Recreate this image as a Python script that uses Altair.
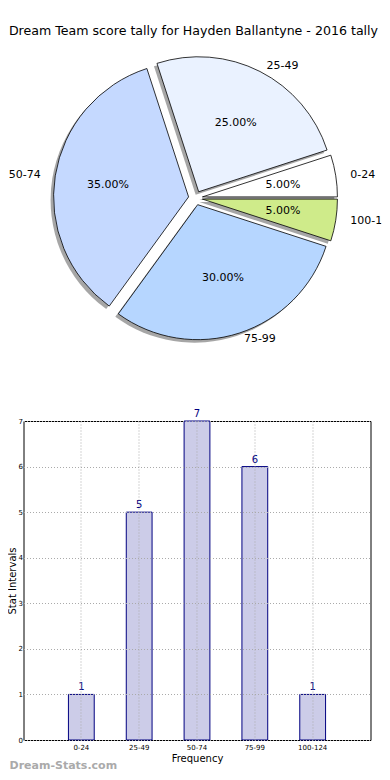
import altair as alt
import pandas as pd

# ---- data ----
categories = ["0-24", "25-49", "50-74", "75-99", "100-124"]
counts = [1, 5, 7, 6, 1]
pie_colors = ["#ffffff", "#eaf2ff", "#c5d9ff", "#b6d6ff", "#cfeb8a"]
y_ticks = [0, 1, 2, 3, 4, 5, 6, 7]
title_text = "Dream Team score tally for Hayden Ballantyne - 2016 tally"
watermark = ["Dream-Stats.com"]

FONT = "DejaVu Sans"

# ---- pie ----
PW, PH = 358, 315
CX, CY, R, EXPL = 172, 151, 135, 7
RX_T, RY_T = 136, 128   # text placement radii (reference pie is slightly elliptical)

df = pd.DataFrame({"cat": categories, "count": counts,
                   "order": list(range(len(categories))), "color": pie_colors})

base = (
    alt.Chart(df)
    .transform_joinaggregate(total="sum(count)")
    .transform_window(cum="sum(count)", sort=[alt.SortField("order")], frame=[None, 0])
    .transform_calculate(
        a0="2*PI*(datum.cum - datum.count)/datum.total",
        a1="2*PI*datum.cum/datum.total",
    )
    .transform_calculate(
        mid="(datum.a0 + datum.a1)/2",
        t0="PI/2 - datum.a1 + 2*PI",
        t1="PI/2 - datum.a0 + 2*PI",
        pct="format(100*datum.count/datum.total, '.2f') + '%'",
    )
    .transform_calculate(
        px=f"{CX} + {EXPL}*cos(datum.mid)",
        py=f"{CY} - {EXPL}*sin(datum.mid)",
    )
    .transform_calculate(
        sx="datum.px - 3",
        sy="datum.py + 3",
        tx=f"datum.px + {0.6 * RX_T}*cos(datum.mid)",
        ty=f"datum.py - {0.6 * RY_T}*sin(datum.mid)",
        lx=f"datum.px + {1.1 * RX_T}*cos(datum.mid)",
        ly=f"datum.py - {1.1 * RY_T}*sin(datum.mid)",
        right="cos(datum.mid) > 0",
    )
)

theta_enc = dict(
    theta=alt.Theta("t0:Q", scale=None, stack=None),
    theta2=alt.Theta2("t1:Q"),
)

shadow = base.mark_arc(radius=R, fill="#4d4d4d", opacity=0.5).encode(
    x=alt.X("sx:Q", scale=None, axis=None),
    y=alt.Y("sy:Q", scale=None, axis=None),
    **theta_enc,
)

slices = base.mark_arc(radius=R, stroke="black", strokeWidth=0.8).encode(
    x=alt.X("px:Q", scale=None, axis=None),
    y=alt.Y("py:Q", scale=None, axis=None),
    fill=alt.Fill("color:N", scale=None),
    **theta_enc,
)

pct_text = base.mark_text(fontSize=11, font=FONT, color="black",
                          align="center", baseline="middle").encode(
    x=alt.X("tx:Q", scale=None, axis=None),
    y=alt.Y("ty:Q", scale=None, axis=None),
    text="pct:N",
)

lab_r = base.transform_filter("datum.right").mark_text(
    fontSize=11, font=FONT, color="black", align="left", baseline="middle", clip=True
).encode(
    x=alt.X("lx:Q", scale=None, axis=None),
    y=alt.Y("ly:Q", scale=None, axis=None),
    text="cat:N",
)

lab_l = base.transform_filter("!datum.right").mark_text(
    fontSize=11, font=FONT, color="black", align="right", baseline="middle"
).encode(
    x=alt.X("lx:Q", scale=None, axis=None),
    y=alt.Y("ly:Q", scale=None, axis=None),
    text="cat:N",
)

pie = alt.layer(shadow, slices, pct_text, lab_r, lab_l).properties(
    width=PW,
    height=PH,
    view=alt.ViewBackground(stroke=None),
    title=alt.TitleParams(title_text, fontSize=12.6, font=FONT, fontWeight="normal",
                          color="black", anchor="middle", dx=-9, offset=9),
)

# ---- bar chart ----
BW, BH = 347, 319
bdf = pd.DataFrame({"cat": categories, "count": counts})

xenc = alt.X(
    "cat:N", sort=categories,
    scale=alt.Scale(paddingInner=0.554, paddingOuter=0.777),
    axis=alt.Axis(title="Frequency", labelAngle=0, bandPosition=0.5, grid=True,
                  gridDash=[1, 2], gridColor="#aaaaaa", labelFontSize=7,
                  titleFontSize=10, ticks=False, domain=False, labelPadding=3,
                  titlePadding=3, zindex=1, labelColor="black", titleColor="black",
                  titleFontWeight="normal", labelFont=FONT, titleFont=FONT),
)
yenc = alt.Y(
    "count:Q",
    scale=alt.Scale(domain=[0, 7], nice=False),
    axis=alt.Axis(title="Stat Intervals", values=y_ticks, grid=True, gridDash=[1, 2],
                  gridColor="#aaaaaa", labelFontSize=7, titleFontSize=10, ticks=False,
                  domain=False, labelPadding=1, titlePadding=1, zindex=1,
                  labelColor="black", titleColor="black", titleFontWeight="normal",
                  labelFont=FONT, titleFont=FONT, format="d"),
)

bars = alt.Chart(bdf).mark_bar(fill="#cccce8", stroke="#000080", strokeWidth=1).encode(
    x=xenc, y=yenc
)
vals = alt.Chart(bdf).mark_text(color="#000080", fontSize=10, font=FONT,
                                baseline="bottom", dy=-2).encode(
    x=alt.X("cat:N", sort=categories), y="count:Q", text="count:Q"
)
wm = alt.Chart(pd.DataFrame({"t": watermark})).mark_text(
    align="left", baseline="middle", font=FONT, fontWeight="bold", fontSize=11,
    color="#aaaaaa"
).encode(x=alt.value(-14), y=alt.value(BH + 26), text="t:N")

barchart = alt.layer(bars, vals, wm).properties(
    width=BW, height=BH,
    view=alt.ViewBackground(stroke="black", strokeWidth=1),
)

chart = alt.vconcat(pie, barchart, spacing=46).properties(
    padding={"left": -1.5, "top": 17, "right": 0, "bottom": 0}
).configure(font=FONT).configure_view(fill="white")

chart.save("out.html", embed_options={"renderer": "svg", "actions": False})
